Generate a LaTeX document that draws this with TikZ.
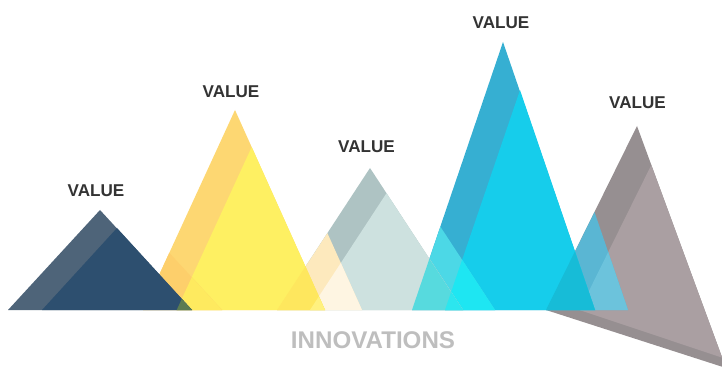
\documentclass[tikz,border=0pt]{standalone}
\usepackage{fontspec}
\setmainfont{Liberation Sans}
\usetikzlibrary{positioning}

\definecolor{navyback}{HTML}{4E6479}
\definecolor{navyfront}{HTML}{2D4F6F}
\definecolor{navymix}{HTML}{5A7B52}
\definecolor{sunback}{HTML}{FDD772}
\definecolor{sunfront}{HTML}{FEF062}
\definecolor{sunshadeback}{HTML}{FDCF6B}
\definecolor{sunshadefront}{HTML}{FEEA5F}
\definecolor{sageback}{HTML}{AEC3C3}
\definecolor{sagefront}{HTML}{CDE1DF}
\definecolor{creamback}{HTML}{FDE9BD}
\definecolor{creamfront}{HTML}{FEF5E2}
\definecolor{sunsageback}{HTML}{FEE75E}
\definecolor{sunsagefront}{HTML}{FFF17F}
\definecolor{cyanback}{HTML}{36AFD2}
\definecolor{cyanfront}{HTML}{16CDEB}
\definecolor{aquaback}{HTML}{4CD8E6}
\definecolor{aquafront}{HTML}{1EE6F2}
\definecolor{sageaquaback}{HTML}{57DADE}
\definecolor{sageaquafront}{HTML}{2CE6EE}
\definecolor{taupeback}{HTML}{968F91}
\definecolor{taupefront}{HTML}{AA9FA2}
\definecolor{skyback}{HTML}{5AB6D3}
\definecolor{skyfront}{HTML}{6CC3DC}
\definecolor{cyantaupe}{HTML}{17BCD7}
\definecolor{valuegray}{HTML}{333333}
\definecolor{innogray}{HTML}{BEBEBE}

\begin{document}
\begin{tikzpicture}[
    x = 0.03cm, y = -0.03cm,
    vlabel/.style    = {font=\fontsize{14.6}{16}\selectfont\bfseries, text=valuegray, inner sep=0pt},
    axislabel/.style = {font=\fontsize{20.6}{22}\selectfont\bfseries, text=innogray, inner sep=0pt},
]
\useasboundingbox (0,0) rectangle (722,370);

% peak corners
\coordinate (A1) at (100,210);   \coordinate (L1) at (8,310);     \coordinate (R1) at (192,310);
\coordinate (F1) at (117,228);   \coordinate (G1) at (42,310);
\coordinate (A2) at (235,110);   \coordinate (L2) at (143,310);   \coordinate (R2) at (325,310);
\coordinate (F2) at (251.7,147); \coordinate (G2) at (176.7,310);
\coordinate (S2) at (169.3,252.8); \coordinate (T2) at (222,310);
\coordinate (A3) at (370,168);   \coordinate (L3) at (277,310);   \coordinate (R3) at (463,310);
\coordinate (F3) at (386.5,193.2); \coordinate (G3) at (310,310);
\coordinate (S3) at (327.4,233.1); \coordinate (T3) at (362,310);
\coordinate (A4) at (503,42);    \coordinate (L4) at (412,310);   \coordinate (R4) at (595,310);
\coordinate (F4) at (520,90.1);  \coordinate (G4) at (445,310);
\coordinate (S4) at (440.4,226.7); \coordinate (T4) at (495,310);
\coordinate (A5) at (637,126);   \coordinate (L5) at (546,310);   \coordinate (R5) at (726,368);
\coordinate (F5) at (651.3,165); \coordinate (G5) at (579.5,310); \coordinate (H5) at (722.2,357.7);
\coordinate (S5) at (594.5,212); \coordinate (T5) at (628,310);

% fifth peak
\fill[taupeback]  (A5) -- (L5) -- (R5) -- cycle;
\fill[taupefront] (F5) -- (G5) -- (H5) -- cycle;
\fill[skyback]    (S5) -- (L5) -- (T5) -- cycle;
\begin{scope}
  \clip (F5) -- (G5) -- (H5) -- cycle;
  \fill[skyfront] (S5) -- (L5) -- (T5) -- cycle;
\end{scope}

% fourth peak
\fill[cyanback]  (A4) -- (L4) -- (R4) -- cycle;
\fill[cyanfront] (F4) -- (G4) -- (R4) -- cycle;
\fill[aquaback]  (S4) -- (L4) -- (T4) -- cycle;
\begin{scope}
  \clip (F4) -- (G4) -- (R4) -- cycle;
  \fill[aquafront] (S4) -- (L4) -- (T4) -- cycle;
\end{scope}
\begin{scope}
  \clip (A4) -- (L4) -- (R4) -- cycle;
  \fill[cyantaupe] (A5) -- (L5) -- (R5) -- cycle;
\end{scope}

% third peak
\fill[sageback]  (A3) -- (L3) -- (R3) -- cycle;
\fill[sagefront] (F3) -- (G3) -- (R3) -- cycle;
\fill[creamback] (S3) -- (L3) -- (T3) -- cycle;
\begin{scope}
  \clip (F3) -- (G3) -- (R3) -- cycle;
  \fill[creamfront] (S3) -- (L3) -- (T3) -- cycle;
\end{scope}
\begin{scope}
  \clip (A3) -- (L3) -- (R3) -- cycle;
  \fill[sageaquaback] (A4) -- (L4) -- (R4) -- cycle;
  \clip (F4) -- (G4) -- (R4) -- cycle;
  \fill[sageaquafront] (A4) -- (L4) -- (R4) -- cycle;
\end{scope}

% second peak
\fill[sunback]      (A2) -- (L2) -- (R2) -- cycle;
\fill[sunfront]     (F2) -- (G2) -- (R2) -- cycle;
\fill[sunshadeback] (S2) -- (L2) -- (T2) -- cycle;
\begin{scope}
  \clip (F2) -- (G2) -- (R2) -- cycle;
  \fill[sunshadefront] (S2) -- (L2) -- (T2) -- cycle;
\end{scope}
\begin{scope}
  \clip (A2) -- (L2) -- (R2) -- cycle;
  \fill[sunsageback] (A3) -- (L3) -- (R3) -- cycle;
  \clip (F3) -- (G3) -- (R3) -- cycle;
  \fill[sunsagefront] (A3) -- (L3) -- (R3) -- cycle;
\end{scope}

% first peak
\fill[navyback]  (A1) -- (L1) -- (R1) -- cycle;
\fill[navyfront] (F1) -- (G1) -- (R1) -- cycle;
\begin{scope}
  \clip (F2) -- (G2) -- (R2) -- cycle;
  \fill[navymix] (F1) -- (G1) -- (R1) -- cycle;
\end{scope}

\node[vlabel] (v1) at (96,191)     {VALUE};
\node[vlabel] (v2) at (231,92)     {VALUE};
\node[vlabel] (v3) at (366.5,146.5) {VALUE};
\node[vlabel] (v4) at (501,22.5)   {VALUE};
\node[vlabel] (v5) at (637.5,102.5) {VALUE};
\node[axislabel] (inno) at (373,340) {INNOVATIONS};

\end{tikzpicture}
\end{document}
